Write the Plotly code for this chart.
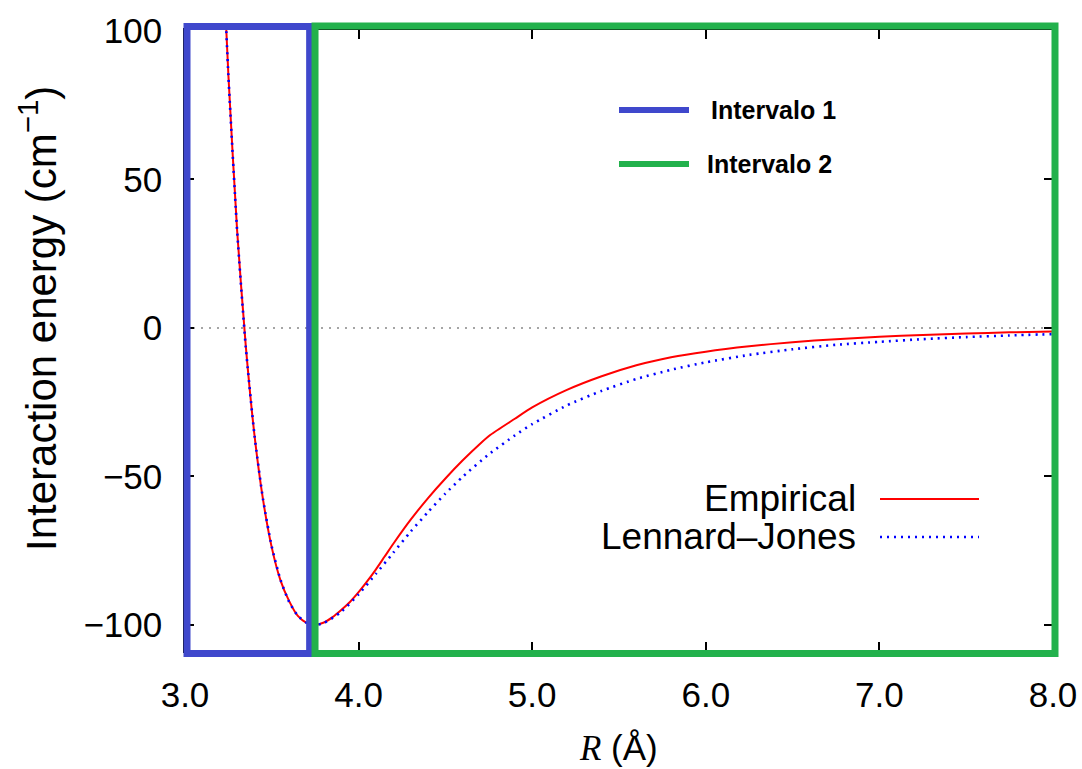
import plotly.graph_objects as go

# ---------------- data ----------------
R_emp = [3.22, 3.25, 3.30, 3.35, 3.40, 3.45, 3.50, 3.55, 3.60, 3.65, 3.70, 3.75,
         3.80, 3.85, 3.90, 3.95, 4.00, 4.05, 4.10, 4.15, 4.20, 4.30, 4.40, 4.50,
         4.60, 4.70, 4.76, 4.90, 5.00, 5.20, 5.40, 5.60, 5.80, 6.00, 6.25, 6.50,
         6.75, 7.00, 7.25, 7.50, 7.75, 8.00]
E_emp = [123.0, 85.0, 33.0, -6.0, -36.0, -58.0, -74.0, -85.0, -92.0, -97.0, -99.3, -100.0,
         -99.2, -97.4, -95.0, -92.3, -89.0, -85.3, -81.3, -77.0, -72.7, -64.6, -57.3, -50.7,
         -44.6, -39.0, -36.0, -30.6, -26.8, -20.9, -16.3, -12.6, -9.9, -8.0, -6.2, -4.8,
         -3.8, -3.0, -2.4, -1.9, -1.5, -1.2]

R_lj = [3.22, 3.25, 3.30, 3.35, 3.40, 3.45, 3.50, 3.55, 3.60, 3.65, 3.70, 3.75,
        3.80, 3.90, 4.00, 4.10, 4.20, 4.30, 4.40, 4.50, 4.60, 4.75, 4.90, 5.00,
        5.20, 5.40, 5.60, 5.80, 6.00, 6.25, 6.50, 6.75, 7.00, 7.25, 7.50, 7.75, 8.00]
E_lj = [123.5, 84.9, 33.0, -6.4, -36.0, -57.9, -73.7, -84.8, -92.3, -96.9, -99.3, -100.0,
        -99.4, -95.6, -89.7, -82.8, -75.7, -68.6, -62.0, -55.8, -50.1, -42.6, -36.2, -32.4,
        -26.1, -21.2, -17.2, -14.1, -11.6, -9.1, -7.2, -5.7, -4.7, -3.8, -3.1, -2.55, -2.1]

series_names = ["Empirical", "Lennard\u2013Jones"]
interval_names = ["Intervalo 1", "Intervalo 2"]
interval1 = [3.0, 3.718]
interval2 = [3.749, 8.0]

x_ticks = [3.0, 4.0, 5.0, 6.0, 7.0, 8.0]
y_ticks = [-100, -50, 0, 50, 100]
x_range = [3.0, 8.0]
y_range = [-108.8, 100.3]

# ---------------- layout geometry ----------------
# the page body margin is removed by the post script, so the figure sits at (0, 0)
OFF = 0
W, H = 1082 - OFF, 769 - OFF
PL, PR, PT, PB = 185, 1053, 30, 651          # plot area on screen
PW, PH = PR - PL, PB - PT
L, T = PL - OFF, PT - OFF
Rm, B = W - (PR - OFF), H - (PB - OFF)

def px_x(px):
    return (px - PL) / PW

def px_y(py):
    return (PB - py) / PH

def xp(v):
    return (v - x_range[0]) / (x_range[1] - x_range[0])

FONT = "Liberation Sans, Arial, Helvetica, sans-serif"
BLUE_BOX = "#3F48CC"
GREEN_BOX = "#22B14C"
LJ_LINE = dict(color="#0000FF", width=2.6, dash="2px,5px")

fig = go.Figure()

fig.add_trace(go.Scatter(x=R_emp, y=E_emp, mode="lines", name=series_names[0],
                         line=dict(color="#FF0000", width=2, shape="spline", smoothing=0.6),
                         showlegend=False))
fig.add_trace(go.Scatter(x=R_lj, y=E_lj, mode="lines", name=series_names[1],
                         line=dict(**LJ_LINE, shape="spline", smoothing=0.6),
                         showlegend=False))

shapes = []
# zero line
shapes.append(dict(type="line", xref="paper", x0=0, x1=1, yref="y", y0=0, y1=0,
                   line=dict(color="#888888", width=1.5, dash="2px,6px"), layer="below"))
# interval boxes
bot = px_y(653.5)
shapes.append(dict(type="rect", xref="paper", yref="paper",
                   x0=xp(interval1[0]) + 2 / PW, x1=xp(interval1[1]),
                   y0=bot, y1=px_y(26.5),
                   line=dict(color=BLUE_BOX, width=7), fillcolor="rgba(0,0,0,0)"))
shapes.append(dict(type="rect", xref="paper", yref="paper",
                   x0=xp(interval2[0]), x1=xp(interval2[1]) + 2 / PW,
                   y0=bot, y1=px_y(26),
                   line=dict(color=GREEN_BOX, width=7), fillcolor="rgba(0,0,0,0)"))
# legend samples for the intervals
shapes.append(dict(type="line", xref="paper", yref="paper",
                   x0=px_x(619), x1=px_x(689), y0=px_y(110), y1=px_y(110),
                   line=dict(color=BLUE_BOX, width=6)))
shapes.append(dict(type="line", xref="paper", yref="paper",
                   x0=px_x(619), x1=px_x(689), y0=px_y(164), y1=px_y(164),
                   line=dict(color=GREEN_BOX, width=6)))
# legend samples for the curves
shapes.append(dict(type="line", xref="paper", yref="paper",
                   x0=px_x(880), x1=px_x(979), y0=px_y(499), y1=px_y(499),
                   line=dict(color="#FF0000", width=2)))
shapes.append(dict(type="line", xref="paper", yref="paper",
                   x0=px_x(880), x1=px_x(979), y0=px_y(537), y1=px_y(537),
                   line=LJ_LINE))

annotations = [
    dict(text=series_names[0], xref="paper", yref="paper", x=px_x(858), y=px_y(498),
         xanchor="right", yanchor="middle", showarrow=False,
         font=dict(family=FONT, size=37, color="black")),
    dict(text=series_names[1], xref="paper", yref="paper", x=px_x(858), y=px_y(536),
         xanchor="right", yanchor="middle", showarrow=False,
         font=dict(family=FONT, size=37, color="black")),
    dict(text="<b>" + interval_names[0] + "</b>", xref="paper", yref="paper",
         x=px_x(709), y=px_y(110), xanchor="left", yanchor="middle", showarrow=False,
         font=dict(family=FONT, size=25, color="black")),
    dict(text="<b>" + interval_names[1] + "</b>", xref="paper", yref="paper",
         x=px_x(705), y=px_y(164), xanchor="left", yanchor="middle", showarrow=False,
         font=dict(family=FONT, size=25, color="black")),
    dict(text="Interaction energy (cm<sup>\u22121</sup>)", xref="paper", yref="paper",
         x=px_x(38), y=px_y(319), xanchor="center", yanchor="middle", textangle=-90,
         showarrow=False, font=dict(family=FONT, size=42, color="black")),
    dict(text="<span style='font-family:Liberation Serif, Times New Roman, serif'><i>R</i></span> (\u00c5)",
         xref="paper", yref="paper",
         x=px_x(618), y=px_y(748), xanchor="center", yanchor="middle",
         showarrow=False, font=dict(family=FONT, size=35, color="black")),
]

axis_common = dict(showline=True, linecolor="black", linewidth=1.5, mirror="ticks",
                   ticks="inside", ticklen=9, tickwidth=2, tickcolor="black",
                   showgrid=False, zeroline=False,
                   tickfont=dict(family=FONT, size=35, color="black"))

fig.update_layout(
    width=W, height=H,
    margin=dict(l=L, r=Rm, t=T, b=B, autoexpand=False),
    paper_bgcolor="white", plot_bgcolor="white",
    showlegend=False,
    xaxis=dict(range=x_range, tickvals=x_ticks, tickformat=".1f",
               ticklabelstandoff=12, **axis_common),
    yaxis=dict(range=y_range, tickvals=y_ticks, ticklabelstandoff=14, **axis_common),
    shapes=shapes,
    annotations=annotations,
)

fig.write_html("out.html",
               config={"displayModeBar": False},
               post_script="document.body.style.margin='0px';"
                           "document.body.style.overflow='hidden';")
